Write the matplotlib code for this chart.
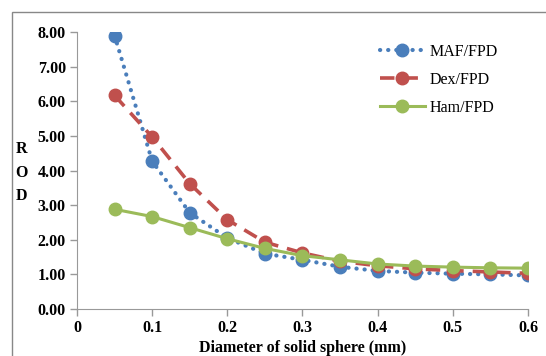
'''
ROD against diameter of solid sphere
'''

import matplotlib
matplotlib.use('Agg')
import matplotlib.pyplot as plt
from matplotlib.patches import Rectangle

diameter = [0.05, 0.1, 0.15, 0.2, 0.25, 0.3, 0.35, 0.4, 0.45, 0.5, 0.55, 0.6]
maf_fpd = [7.90, 4.27, 2.78, 2.05, 1.60, 1.42, 1.22, 1.10, 1.05, 1.02, 1.00, 0.97]
dex_fpd = [6.17, 4.97, 3.62, 2.58, 1.93, 1.62, 1.38, 1.25, 1.16, 1.11, 1.07, 1.03]
ham_fpd = [2.88, 2.67, 2.35, 2.03, 1.75, 1.54, 1.42, 1.30, 1.24, 1.21, 1.19, 1.18]
y_ticks = [0, 1, 2, 3, 4, 5, 6, 7, 8]
x_ticks = [0, 0.1, 0.2, 0.3, 0.4, 0.5, 0.6]
x_tick_labels = ['0', '0.1', '0.2', '0.3', '0.4', '0.5', '0.6']


def plot_chart():
    '''
    Draw the three ROD curves and save the figure
    '''
    plt.rcParams['font.family'] = ['Liberation Serif', 'DejaVu Serif']
    fig = plt.figure(figsize=(5.46, 3.56), dpi=100)
    ax = fig.add_axes([0.141, 0.132, 0.826, 0.778])

    ax.plot(diameter, maf_fpd, linestyle=(0, (0.05, 1.9)),
            dash_capstyle='round', color='#4a7ebb', linewidth=3.0,
            marker='o', markersize=9, label='MAF/FPD')
    ax.plot(diameter, dex_fpd, linestyle=(0, (4, 2.5)), color='#c0504d',
            linewidth=2.6, marker='o', markersize=9, label='Dex/FPD')
    ax.plot(diameter, ham_fpd, linestyle='-', color='#9bbb59',
            linewidth=2.2, marker='o', markersize=9, label='Ham/FPD')

    ax.set_xlim(0, 0.6)
    ax.set_ylim(0, 8)
    ax.set_xticks(x_ticks)
    ax.set_xticklabels(x_tick_labels, fontsize=11.5, fontweight='bold')
    ax.set_yticks(y_ticks)
    ax.set_yticklabels(['%.2f' % v for v in y_ticks], fontsize=11.5,
                       fontweight='bold')
    ax.tick_params(direction='out', length=5, color='#999999', width=1,
                   pad=3)
    for side in ['top', 'right']:
        ax.spines[side].set_visible(False)
    for side in ['left', 'bottom']:
        ax.spines[side].set_color('#999999')

    ax.set_xlabel('Diameter of solid sphere (mm)', fontsize=11.5,
                  fontweight='bold', labelpad=3)
    fig.text(0.040, 0.515, 'R\nO\nD', fontsize=11.5, fontweight='bold',
             ha='center', va='center', linespacing=1.6)

    ax.legend(loc='upper right', bbox_to_anchor=(0.965, 1.01), frameon=False,
              fontsize=11.5, handlelength=2.8, labelspacing=0.75,
              handletextpad=0.3, markerscale=1.0)

    fig.patches.append(Rectangle((12 / 546, -0.01), 1.0, 1 - 12 / 356 + 0.01,
                                 transform=fig.transFigure, fill=False,
                                 edgecolor='#888888', linewidth=1.0))
    fig.savefig('out.png', dpi=100)


plot_chart()
